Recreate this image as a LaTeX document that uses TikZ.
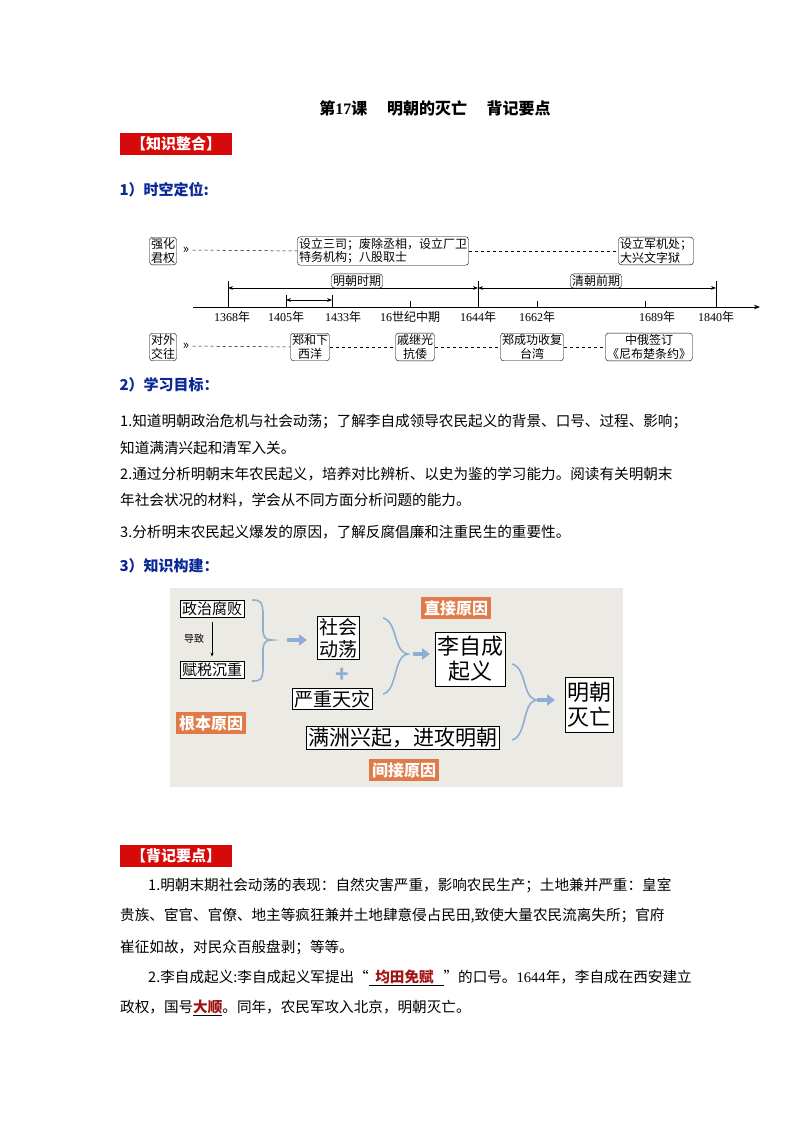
\documentclass[tikz,border=0pt]{standalone}
\usepackage{fontspec}
\setmainfont{Noto Sans CJK SC}
\newfontfamily\latn{Liberation Serif}
\usetikzlibrary{arrows.meta,decorations.pathreplacing}
\definecolor{hblue}{RGB}{10,40,150}
\definecolor{rbox}{RGB}{215,10,10}
\definecolor{obox}{RGB}{224,122,72}
\definecolor{bbrace}{RGB}{140,175,210}
\definecolor{bgpic}{RGB}{236,234,228}
\definecolor{dred}{RGB}{160,20,20}
\tikzset{
 tbox/.style={draw,rounded corners=3pt,align=center,font=\fontsize{12}{13.5}\selectfont,inner sep=1.5pt},
 dline/.style={dashed,line width=0.5pt},
 heading/.style={anchor=west,text=hblue,font=\fontsize{15}{15}\selectfont\bfseries},
 redlab/.style={fill=rbox,text=white,font=\fontsize{15}{15}\selectfont\bfseries,inner sep=2pt,minimum width=112pt,minimum height=22pt},
 body/.style={anchor=west,font=\fontsize{14.6}{14.6}\selectfont,inner sep=0pt},
 pbox/.style={draw,line width=1pt,fill=white,align=center,inner sep=2pt},
 obx/.style={fill=obox,text=white,font=\fontsize{16}{16}\selectfont\bfseries,inner sep=3pt},
 barrow/.style={bbrace,line width=4pt,-{Triangle[width=11pt,length=8pt]}},
 brc/.style={bbrace,line width=1.6pt},
 tick/.style={line width=0.5pt},
 yl/.style={font=\fontsize{12}{12}\selectfont,inner sep=0pt}
}
\begin{document}
\begin{tikzpicture}[x=1pt,y=-1pt]
\useasboundingbox (0,0) rectangle (794,1123);
% title
\node[font=\fontsize{16}{16}\selectfont\bfseries] (title) at (435,108) {第{\latn 17}课\quad\ 明朝的灭亡\quad\ 背记要点};
\node[redlab] (k1) at (176,144) {【知识整合】};
\node[heading] (h1) at (116,190) {1）时空定位:};
% timeline top
\node[tbox] (qh) at (163,251) {强化\\君权};
\node[tbox,align=left] (m1) at (383,251) {设立三司；废除丞相，设立厂卫\\特务机构；八股取士};
\node[tbox,align=left] (q1) at (656,251) {设立军机处；\\大兴文字狱};
\node[font=\fontsize{13}{13}\selectfont] (qa) at (186,250) {»};
\draw[dline] (qa.east) -- (m1.west);
\draw[dline] (m1.east) -- (q1.west);
% axis
\coordinate (a0) at (193,307);
\coordinate (a1) at (760,307);
\draw[line width=0.6pt,-{Stealth[length=6pt]}] (a0) -- (a1);
\foreach \x/\n in {228/t1368,478/t1644,716/t1840}{\draw[tick] (\x,307) -- (\x,281); \coordinate (\n) at (\x,288);}
\foreach \x/\n in {286/t1405,332/t1433}{\draw[tick] (\x,307) -- (\x,295); \coordinate (\n) at (\x,300);}
\foreach \x in {410,537,645}{\draw[tick] (\x,307) -- (\x,301);}
\draw[line width=0.6pt,{Stealth[length=5pt]}-{Stealth[length=5pt]}] (t1368) -- (t1644);
\draw[line width=0.6pt,{Stealth[length=5pt]}-{Stealth[length=5pt]}] (t1644) -- (t1840);
\draw[line width=0.6pt,{Stealth[length=5pt]}-{Stealth[length=5pt]}] (t1405) -- (t1433);
\node[tbox,fill=white] (mq) at (357,281) {明朝时期};
\node[tbox,fill=white] (qq) at (596,281) {清朝前期};
\foreach \x/\t in {232/1368,286/1405,343/1433,478/1644,537/1662,657/1689,716/1840}
 \node[yl] at (\x,317) {{\latn\t}年};
\node[yl] (s16) at (410,317) {{\latn 16}世纪中期};
% timeline bottom
\node[tbox] (dw) at (163,347) {对外\\交往};
\node[font=\fontsize{13}{13}\selectfont] (da) at (186,346) {»};
\node[tbox] (zh) at (310,347) {郑和下\\西洋};
\node[tbox] (qj) at (415,347) {戚继光\\抗倭};
\node[tbox] (zc) at (532,347) {郑成功收复\\台湾};
\node[tbox] (zy) at (649,347) {中俄签订\\《尼布楚条约》};
\draw[dline] (da.east) -- (zh.west);
\draw[dline] (zh.east) -- (qj.west);
\draw[dline] (qj.east) -- (zc.west);
\draw[dline] (zc.east) -- (zy.west);
% section 2
\node[heading] (h2) at (116,385) {2）学习目标：};
\node[body] (l1) at (120,422) {1.知道明朝政治危机与社会动荡；了解李自成领导农民起义的背景、口号、过程、影响；};
\node[body] (l2) at (120,448) {知道满清兴起和清军入关。};
\node[body] (l3) at (120,474) {2.通过分析明朝末年农民起义，培养对比辨析、以史为鉴的学习能力。阅读有关明朝末};
\node[body] (l4) at (120,500) {年社会状况的材料，学会从不同方面分析问题的能力。};
\node[body] (l5) at (120,532) {3.分析明末农民起义爆发的原因，了解反腐倡廉和注重民生的重要性。};
\node[heading] (h3) at (116,566) {3）知识构建：};
% picture
\fill[bgpic] (170,588) rectangle (623,787);
\node[pbox,font=\fontsize{15}{15}\selectfont] (zz) at (212,609) {政治腐败};
\node[pbox,font=\fontsize{15}{15}\selectfont] (fs) at (212,670) {赋税沉重};
\draw[-{Stealth[length=4pt]},line width=0.5pt,shorten <=4pt,shorten >=4pt] (zz.south) -- (fs.north);
\node[font=\fontsize{10}{10}\selectfont] (dz) at (194,639) {导致};
\draw[brc] (252,600) .. controls (262,600) and (262,603) .. (263,612) -- (263,632) .. controls (264,638) and (266,640) .. (272,640) .. controls (266,640) and (264,642) .. (263,648) -- (263,670) .. controls (262,679) and (262,681) .. (252,681);
\draw[barrow] (287,640) -- (307,640);
\node[pbox,font=\fontsize{19}{22}\selectfont] (sh) at (338,638) {社会\\动荡};
\node[text=bbrace,font=\fontsize{22}{22}\selectfont\bfseries] (plus) at (342,675) {+};
\node[pbox,font=\fontsize{19}{19}\selectfont] (yz) at (332,699) {严重天灾};
\draw[brc] (383,618) .. controls (398,622) and (393,652) .. (408,654) .. controls (393,656) and (398,690) .. (383,694);
\draw[barrow] (413,654) -- (430,654);
\node[pbox,font=\fontsize{22}{25}\selectfont,minimum height=54pt] (lz) at (470,659) {李自成\\起义};
\node[obx] (zj) at (456,608) {直接原因};
\draw[brc] (512,664) .. controls (527,668) and (522,697) .. (536,700) .. controls (522,703) and (527,736) .. (512,740);
\draw[barrow] (537,700) -- (555,700);
\node[pbox,font=\fontsize{22}{25}\selectfont,minimum height=55pt] (mm) at (589,705) {明朝\\灭亡};
\node[pbox,font=\fontsize{21}{21}\selectfont] (mz) at (403,738) {满洲兴起，进攻明朝};
\node[obx] (gb) at (211,723) {根本原因};
\node[obx] (jj) at (404,770) {间接原因};
% section 4
\node[redlab] (k2) at (176,856) {【背记要点】};
\node[body] (p1) at (148,885) {1.明朝末期社会动荡的表现：自然灾害严重，影响农民生产；土地兼并严重：皇室};
\node[body] (p2) at (120,916) {贵族、宦官、官僚、地主等疯狂兼并土地肆意侵占民田,致使大量农民流离失所；官府};
\node[body] (p3) at (120,947) {崔征如故，对民众百般盘剥；等等。};
\node[body] (p4) at (148,978) {2.李自成起义:李自成起义军提出“\underline{\ \ \textcolor{dred}{\bfseries 均田免赋}\ \ \ }”的口号。{\latn 1644}年，李自成在西安建立};
\node[body] (p5) at (120,1008) {政权，国号\underline{\textcolor{dred}{\bfseries 大顺}}。同年，农民军攻入北京，明朝灭亡。};
\end{tikzpicture}
\end{document}
